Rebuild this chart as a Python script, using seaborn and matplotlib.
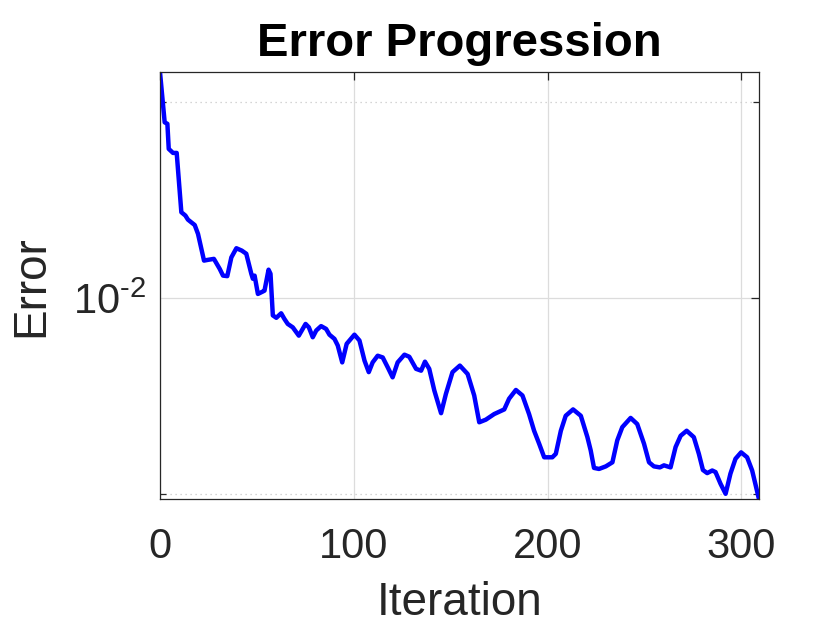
import numpy as np
import pandas as pd
import matplotlib
matplotlib.use("Agg")
import matplotlib.pyplot as plt
import matplotlib.ticker as mticker
import seaborn as sns

# Data
iteration = [0, 2.4, 3.8, 4.5, 6.7, 8.6, 11.0, 13.1, 14.4, 16.2, 17.9, 19.6, 22.7, 24.7,
             27.8, 30.8, 32.5, 34.7, 36.8, 39.4, 42.2, 44.5, 47.1, 47.9, 48.8, 50.5, 53.1,
             53.9, 56.0, 57.0, 58.2, 60.0, 62.5, 64.2, 65.9, 68.5, 71.6, 75.1, 76.8, 78.8,
             80.6, 83.1, 85.7, 87.4, 90.0, 91.7, 94.0, 96.3, 100.3, 102.9, 105.5, 107.7,
             109.7, 112.3, 114.9, 117.5, 120.0, 122.6, 126.1, 128.6, 132.1, 134.7, 136.7,
             138.9, 141.5, 145.0, 147.5, 150.9, 154.7, 158.7, 162.1, 164.7, 168.1, 172.4,
             177.6, 180.1, 183.6, 187.0, 190.4, 193.0, 195.6, 198.2, 202.4, 204.2, 206.8,
             209.3, 213.1, 217.1, 220.5, 222.2, 223.9, 226.5, 230.0, 233.4, 235.9, 238.5,
             242.8, 246.2, 249.7, 252.3, 254.8, 257.9, 260.0, 263.4, 266.0, 268.6, 271.7,
             275.4, 278.0, 280.1, 282.3, 284.9, 286.6, 289.2, 291.8, 294.3, 296.9, 299.8,
             302.9, 305.5, 309.0]
error = [0.02220, 0.01861, 0.01851, 0.01694, 0.01670, 0.01670, 0.01354, 0.01338, 0.01319,
         0.01306, 0.01294, 0.01254, 0.01141, 0.01144, 0.01148, 0.01108, 0.01082, 0.01080,
         0.01154, 0.01192, 0.01182, 0.01169, 0.01089, 0.01070, 0.01082, 0.01014, 0.01023,
         0.01026, 0.01105, 0.01089, 0.00940, 0.00932, 0.00947, 0.00928, 0.00912, 0.00901,
         0.00875, 0.00912, 0.00901, 0.00870, 0.00891, 0.00905, 0.00896, 0.00878, 0.00865,
         0.00845, 0.00796, 0.00850, 0.00878, 0.00860, 0.00801, 0.00769, 0.00796, 0.00815,
         0.00810, 0.00782, 0.00755, 0.00796, 0.00818, 0.00812, 0.00778, 0.00773, 0.00798,
         0.00778, 0.00721, 0.00665, 0.00712, 0.00769, 0.00787, 0.00764, 0.00708, 0.00644,
         0.00650, 0.00663, 0.00674, 0.00700, 0.00722, 0.00708, 0.00663, 0.00625, 0.00597,
         0.00569, 0.00569, 0.00576, 0.00625, 0.00659, 0.00674, 0.00659, 0.00611, 0.00583,
         0.00548, 0.00546, 0.00551, 0.00559, 0.00604, 0.00633, 0.00654, 0.00640, 0.00597,
         0.00559, 0.00551, 0.00549, 0.00553, 0.00549, 0.00590, 0.00614, 0.00625, 0.00611,
         0.00576, 0.00544, 0.00538, 0.00543, 0.00540, 0.00518, 0.00500, 0.00537, 0.00566,
         0.00579, 0.00569, 0.00543, 0.00491]

x_ticks = [0, 100, 200, 300]
y_major = [1e-2]
y_major_labels = ["$\\mathdefault{10^{\u2010 2}}$"]
y_minor = [5e-3, 2e-2]

title = "Error Progression"
xlabel = "Iteration"
ylabel = "Error"

sns.set_theme(style="white")
plt.rcParams["font.family"] = ["Liberation Sans", "DejaVu Sans"]
plt.rcParams["axes.unicode_minus"] = False
plt.rcParams["mathtext.fontset"] = "custom"
plt.rcParams["mathtext.rm"] = "Liberation Sans"
plt.rcParams["mathtext.it"] = "Liberation Sans:italic"
plt.rcParams["mathtext.bf"] = "Liberation Sans:bold"

df = pd.DataFrame({"Iteration": iteration, "Error": error})

fig = plt.figure(figsize=(8.4, 6.3), dpi=100)
ax = fig.add_axes([0.1905, 0.208, 0.713, 0.677])

sns.lineplot(data=df, x="Iteration", y="Error", ax=ax, color="#0000FF",
             linewidth=3.2, estimator=None, sort=False,
             solid_joinstyle="round", solid_capstyle="round")

ax.set_yscale("log")
ax.set_xlim(0, 309)
ax.set_ylim(0.00491, 0.0222)

ax.xaxis.set_major_locator(mticker.FixedLocator(x_ticks))
ax.xaxis.set_minor_locator(mticker.NullLocator())
ax.yaxis.set_major_locator(mticker.FixedLocator(y_major))
ax.yaxis.set_major_formatter(mticker.FixedFormatter(y_major_labels))
ax.yaxis.set_minor_locator(mticker.FixedLocator(y_minor))
ax.yaxis.set_minor_formatter(mticker.NullFormatter())

ax.grid(True, which="major", color="#dcdcdc", linewidth=0.9, linestyle="-")
ax.grid(True, which="minor", axis="y", color="#c8c8c8", linewidth=0.9, linestyle=(0, (1, 3)))
ax.set_axisbelow(True)

for s in ax.spines.values():
    s.set_visible(True)
    s.set_color("#262626")
    s.set_linewidth(0.9)

ax.tick_params(which="major", direction="in", length=6, width=0.9, color="#262626",
               top=True, right=True, labelsize=30, labelcolor="#262626")
ax.tick_params(axis="x", which="major", pad=20)
ax.tick_params(axis="y", which="major", pad=10)
ax.tick_params(which="minor", direction="in", length=4, width=0.9, color="#262626",
               left=True, right=True)

ax.set_xlabel(xlabel, fontsize=33, color="#262626", labelpad=10)
ax.set_ylabel(ylabel, fontsize=33, color="#262626", labelpad=14)
ax.set_title(title, fontsize=34, fontweight="bold", color="black", pad=12)

fig.savefig("out.png", dpi=100, facecolor="white")
